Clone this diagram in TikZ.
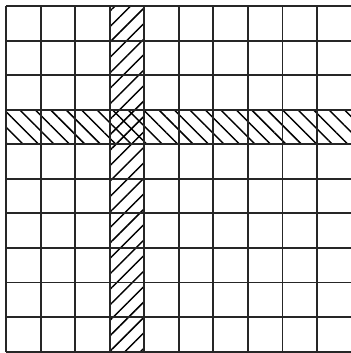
\documentclass[tikz,border=0pt]{standalone}
\usepackage{tikz}
\usetikzlibrary{patterns.meta}

\begin{document}
\begin{tikzpicture}[
        gridline/.style={line width=1.6pt, black!85},
        hatchne/.style={pattern={Lines[angle=45, distance=9pt, line width=1.2pt]}},
        hatchnw/.style={pattern={Lines[angle=-45, distance=9pt, line width=1.2pt]}}
    ]
        \useasboundingbox (-0.173,-0.04) rectangle (9.97,10.173);

        % Hatched column
        \fill[hatchne] (3,0) rectangle (4,10);

        % Hatched row
        \fill[hatchnw] (0,6) rectangle (10,7);

        % Grid
        \foreach \i in {0,...,10} {
            \draw[gridline] (\i,0) -- (\i,10);
            \draw[gridline] (0,\i) -- (10,\i);
        }

    \end{tikzpicture}
\end{document}
